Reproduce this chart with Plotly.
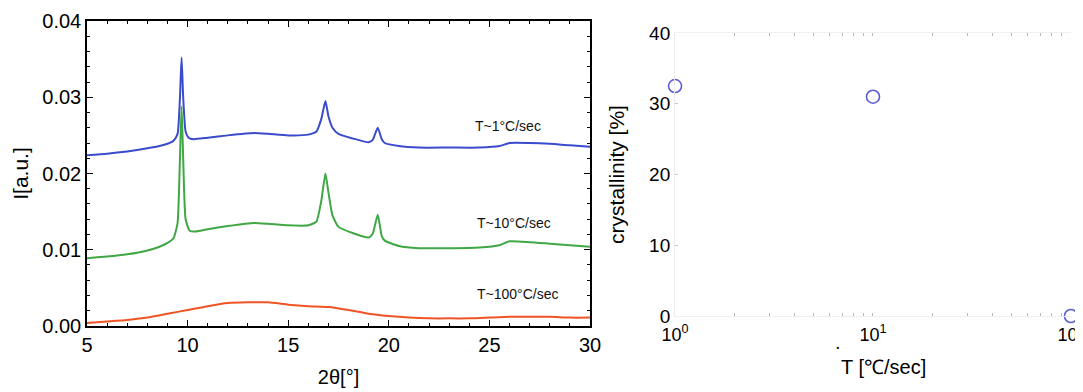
import plotly.graph_objects as go

# ---------------- data: left panel (XRD patterns) ----------------
x_1 = [5.0, 6.0, 7.0, 8.0, 8.6, 9.0, 9.3, 9.5, 9.62, 9.7, 9.78, 9.9, 10.05, 10.3, 11.0,
       12.0, 13.3, 14.0, 15.0, 16.0, 16.4, 16.65, 16.85, 17.0, 17.2, 17.5, 18.2, 19.0,
       19.2, 19.45, 19.65, 19.8, 20.5, 21.5, 23.0, 24.5, 25.5, 26.0, 27.0, 28.0, 29.0,
       30.0]
i_1 = [0.0224, 0.0226, 0.0229, 0.0233, 0.0236, 0.0239, 0.0243, 0.0252, 0.0300, 0.0352,
       0.0300, 0.0255, 0.0247, 0.0245, 0.0247, 0.0250, 0.0253, 0.0252, 0.0250, 0.0251,
       0.0255, 0.0272, 0.0295, 0.0275, 0.0260, 0.0252, 0.0246, 0.0241, 0.0244, 0.0260,
       0.0245, 0.0240, 0.0236, 0.0234, 0.0234, 0.0234, 0.0236, 0.0240, 0.0240, 0.0239,
       0.0237, 0.0235]

x_10 = [5.0, 6.0, 7.0, 8.0, 8.6, 9.0, 9.3, 9.5, 9.62, 9.7, 9.78, 9.9, 10.1, 10.4, 11.0,
        12.0, 13.3, 14.0, 15.0, 16.0, 16.4, 16.65, 16.85, 17.0, 17.2, 17.5, 18.2, 19.0,
        19.2, 19.45, 19.65, 19.8, 20.5, 21.5, 23.0, 24.5, 25.5, 26.0, 27.0, 28.0, 29.0,
        30.0]
i_10 = [0.0089, 0.0091, 0.0094, 0.0099, 0.0104, 0.0109, 0.0115, 0.0135, 0.0220, 0.0288,
        0.0220, 0.0140, 0.0125, 0.0124, 0.0127, 0.0131, 0.0135, 0.0134, 0.0132, 0.0132,
        0.0137, 0.0165, 0.0200, 0.0175, 0.0145, 0.0130, 0.0122, 0.0116, 0.0121, 0.0146,
        0.0118, 0.0112, 0.0105, 0.0102, 0.0102, 0.0103, 0.0106, 0.0111, 0.0110, 0.0108,
        0.0106, 0.0104]

x_100 = [5, 6, 7, 8, 9, 10, 11, 12, 13, 14, 15, 16, 17, 18, 19, 20, 21, 22, 23, 24,
         25, 26, 27, 28, 29, 30]
i_100 = [0.0004, 0.0006, 0.0008, 0.0011, 0.0016, 0.0021, 0.0026, 0.0030, 0.0031, 0.0031,
         0.0028, 0.0026, 0.0025, 0.0021, 0.0016, 0.0013, 0.0011, 0.0010, 0.0010, 0.0010,
         0.0011, 0.0012, 0.0012, 0.0012, 0.0011, 0.0011]

series_labels = ["T~1°C/sec", "T~10°C/sec", "T~100°C/sec"]

# ---------------- data: right panel (crystallinity) ----------------
rate = [1, 10, 100]
crystallinity = [32.5, 31.0, 0.0]

log_tickvals = [1, 2, 3, 4, 5, 6, 7, 8, 9, 10, 20, 30, 40, 50, 60, 70, 80, 90, 100]
log_ticktext = ["10<sup>0</sup>", "", "", "", "", "", "", "", "",
                "10<sup>1</sup>", "", "", "", "", "", "", "", "", "10<sup>2</sup>"]

FONT = "Liberation Sans, Arial, sans-serif"
LINE = dict(shape="spline", smoothing=0.5, width=2)

fig = go.Figure()
fig.add_trace(go.Scatter(x=x_1, y=i_1, mode="lines", line=dict(color="#3a4ccc", **LINE),
                         xaxis="x", yaxis="y", showlegend=False))
fig.add_trace(go.Scatter(x=x_10, y=i_10, mode="lines", line=dict(color="#3fa845", **LINE),
                         xaxis="x", yaxis="y", showlegend=False))
fig.add_trace(go.Scatter(x=x_100, y=i_100, mode="lines", line=dict(color="#f05424", **LINE),
                         xaxis="x", yaxis="y", showlegend=False))

fig.add_trace(go.Scatter(x=rate, y=crystallinity, mode="markers",
                         marker=dict(symbol="circle-open", size=13, color="#5b5bd6",
                                     line=dict(width=1.6, color="#5b5bd6")),
                         cliponaxis=False, xaxis="x2", yaxis="y2", showlegend=False))

# labels next to the curves
label_pos = [(25.9, 0.0262), (26.2, 0.0135), (26.4, 0.0042)]
for txt, (lx, ly) in zip(series_labels, label_pos):
    fig.add_annotation(x=lx, y=ly, xref="x", yref="y", text=txt, showarrow=False,
                       font=dict(family=FONT, size=14, color="#111"))

# stray dot below the right x axis
fig.add_annotation(x=0.772, y=0.130, xref="paper", yref="paper", text=".", showarrow=False,
                   xanchor="center", yanchor="middle",
                   font=dict(family=FONT, size=20, color="#111"))

# right x-axis title (slightly right of the axis centre, as in the original)
fig.add_annotation(x=0.814, y=0.065, xref="paper", yref="paper", text="T [℃/sec]",
                   showarrow=False, xanchor="center", yanchor="middle",
                   font=dict(family=FONT, size=20, color="black"))

fig.update_layout(
    width=1075, height=384,
    margin=dict(l=0, r=0, t=0, b=0, autoexpand=False),
    paper_bgcolor="white", plot_bgcolor="white",
    font=dict(family=FONT, color="black"),
    xaxis=dict(domain=[0.0735, 0.5414], anchor="y", range=[5, 30], automargin=False,
               tick0=5, dtick=5, ticks="inside", ticklen=6, tickwidth=1.2, tickcolor="black",
               minor=dict(dtick=1, ticks="inside", ticklen=3, tickcolor="black"),
               showline=True, linecolor="black", linewidth=1.5, mirror="allticks",
               showgrid=False, zeroline=False,
               tickfont=dict(family=FONT, size=20, color="black"),
               title=dict(text="2θ[°]", font=dict(family=FONT, size=20, color="black"),
                          standoff=15)),
    yaxis=dict(domain=[0.1719, 0.9661], anchor="x", range=[0, 0.04], automargin=False,
               dtick=0.01, tickformat=".2f", ticks="inside", ticklen=6, tickwidth=1.2,
               tickcolor="black",
               minor=dict(dtick=0.002, ticks="inside", ticklen=3, tickcolor="black"),
               showline=True, linecolor="black", linewidth=1.5, mirror="allticks",
               showgrid=False, zeroline=False,
               tickfont=dict(family=FONT, size=20, color="black"),
               title=dict(text="I[a.u.]", font=dict(family=FONT, size=21, color="black"),
                          standoff=8)),
    xaxis2=dict(domain=[0.6205, 0.9888], anchor="y2", type="log", range=[0, 2],
                automargin=False, ticklabeloverflow="allow",
                tickvals=log_tickvals, ticktext=log_ticktext,
                ticks="inside", ticklen=3, tickcolor="#b8b8b8", tickwidth=1,
                showline=True, linecolor="#f0f0f0", linewidth=1, mirror="allticks",
                showgrid=False, zeroline=False, ticklabelstandoff=2,
                tickfont=dict(family=FONT, size=18, color="black")),
    yaxis2=dict(domain=[0.1979, 0.9349], anchor="x2", range=[0, 40], dtick=10,
                automargin=False,
                ticks="inside", ticklen=3, tickcolor="#c8c8c8",
                showline=True, linecolor="#ececec", linewidth=1,
                showgrid=False, zeroline=False,
                tickfont=dict(family=FONT, size=19, color="black"),
                title=dict(text="crystallinity [%]",
                           font=dict(family=FONT, size=21, color="black"), standoff=18)),
)

fig.write_html("out.html")
